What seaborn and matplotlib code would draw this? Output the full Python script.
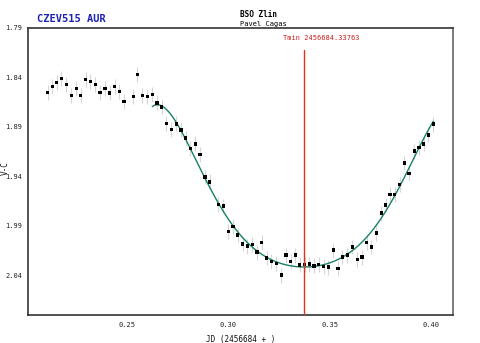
import numpy as np
import pandas as pd
import matplotlib
matplotlib.use("Agg")
import matplotlib.pyplot as plt
import seaborn as sns

# Observations: JD - 2456684 and V-C differential magnitude
jd = [0.21106, 0.21333, 0.21550, 0.21776, 0.22023, 0.22269, 0.22516, 0.22733,
      0.22979, 0.23206, 0.23452, 0.23684, 0.23930, 0.24162, 0.24408, 0.24635,
      0.24867, 0.25325, 0.25523, 0.25769, 0.26015, 0.26262, 0.26494, 0.26725,
      0.26952, 0.27198, 0.27445, 0.27677, 0.27908, 0.28145, 0.28381, 0.28613,
      0.28869, 0.29091, 0.29525, 0.29762, 0.30008, 0.30240, 0.30471, 0.30718,
      0.30955, 0.31191, 0.31423, 0.31654, 0.31901, 0.32138, 0.32379, 0.32630,
      0.32852, 0.33084, 0.33321, 0.33533, 0.33774, 0.34001, 0.34232, 0.34469,
      0.34711, 0.34947, 0.35184, 0.35425, 0.35637, 0.35879, 0.36120, 0.36367,
      0.36599, 0.36830, 0.37067, 0.37303, 0.37550, 0.37767, 0.37989, 0.38215,
      0.38452, 0.38689, 0.38925, 0.39177, 0.39408, 0.39640, 0.39867, 0.40113]
mag = [1.8555, 1.8497, 1.8457, 1.8416, 1.8474, 1.8585, 1.8517, 1.8588,
       1.8426, 1.8446, 1.8477, 1.8555, 1.8517, 1.8558, 1.8494, 1.8547,
       1.8645, 1.8595, 1.8373, 1.8588, 1.8595, 1.8578, 1.8659, 1.8701,
       1.8870, 1.8928, 1.8871, 1.8931, 1.9014, 1.9122, 1.9072, 1.9179,
       1.9406, 1.9456, 1.9686, 1.9698, 1.9954, 1.9905, 1.9991, 2.0082,
       2.0103, 2.0085, 2.0163, 2.0065, 2.0223, 2.0260, 2.0278, 2.0395,
       2.0194, 2.0260, 2.0193, 2.0292, 2.0286, 2.0285, 2.0302, 2.0286,
       2.0306, 2.0315, 2.0143, 2.0327, 2.0213, 2.0193, 2.0112, 2.0236,
       2.0214, 2.0065, 2.0112, 1.9972, 1.9770, 1.9689, 1.9580, 1.9580,
       1.9479, 1.9265, 1.9373, 1.9145, 1.9112, 1.9072, 1.8982, 1.8873]
mag_err = 0.0075

T_MIN = 0.33763
FIT_START = 0.2626

x_ticks = [0.25, 0.30, 0.35, 0.40]
y_ticks = [1.79, 1.84, 1.89, 1.94, 1.99, 2.04]

df = pd.DataFrame({"jd": jd, "mag": mag})

# Symmetric polynomial model of the minimum, fitted to the eclipse branch
sel = df[df["jd"] >= FIT_START]
u = (sel["jd"].to_numpy() - T_MIN) ** 2
coef = np.polyfit(u, sel["mag"].to_numpy(), 3)
xf = np.linspace(sel["jd"].min(), sel["jd"].max(), 300)
fit = pd.DataFrame({"jd": xf, "mag": np.polyval(coef, (xf - T_MIN) ** 2)})

sns.set_theme(style="white")
mono = ["DejaVu Sans Mono"]
plt.rcParams["font.family"] = mono

fig = plt.figure(figsize=(4.8, 3.43), dpi=100)
ax = fig.add_axes([0.0577, 0.0816, 0.8854, 0.8382])

ax.errorbar(df["jd"], df["mag"], yerr=mag_err, fmt="none",
            ecolor="#d6d6d6", elinewidth=0.8, capsize=0, zorder=1)
sns.lineplot(data=fit, x="jd", y="mag", ax=ax, color="#17806a",
             linewidth=1.0, zorder=2)
sns.scatterplot(data=df, x="jd", y="mag", ax=ax, marker="s", s=6,
                color="black", edgecolor="none", linewidth=0, zorder=3)

ax.axvline(T_MIN, ymin=0, ymax=0.923, color="#e0301e", linewidth=1.0, zorder=4)
ax.text(T_MIN - 0.0105, 1.8005, "Tmin 2456684.33763", color="#cc1f1f",
        fontsize=5, ha="left", va="center", family=mono)

ax.set_xlim(0.2012, 0.4107)
ax.set_ylim(2.0797, 1.79)
ax.set_xticks(x_ticks)
ax.set_xticklabels([f"{t:.2f}" for t in x_ticks])
ax.set_yticks(y_ticks)
ax.set_yticklabels([f"{t:.2f}" for t in y_ticks])
ax.tick_params(axis="both", direction="in", length=3, width=0.8,
               labelsize=5, colors="#222222")
ax.tick_params(axis="x", pad=5)
ax.tick_params(axis="y", pad=4)
ax.set_xlabel("JD (2456684 + )", fontsize=5.5, labelpad=5, color="#111111")
ax.set_ylabel("")
for side, sp in ax.spines.items():
    sp.set_color("#333333" if side != "right" else "#666666")
    sp.set_linewidth(1.2)

fig.text(0.0035 + 0.008, 0.51, "V-C", rotation=90, fontsize=5.5,
         ha="center", va="center", family=mono, color="#111111")
fig.text(0.077, 0.944, "CZEV515 AUR", color="#1c23b4", fontsize=7.5,
         fontweight="bold", ha="left", va="center", family=mono)
fig.text(0.5, 0.958, "BSO Zlin", color="black", fontsize=5.6,
         fontweight="bold", ha="left", va="center", family=mono)
fig.text(0.5, 0.930, "Pavel Cagas", color="black", fontsize=5,
         ha="left", va="center", family=mono)

fig.savefig("out.png", dpi=100, facecolor="white")
